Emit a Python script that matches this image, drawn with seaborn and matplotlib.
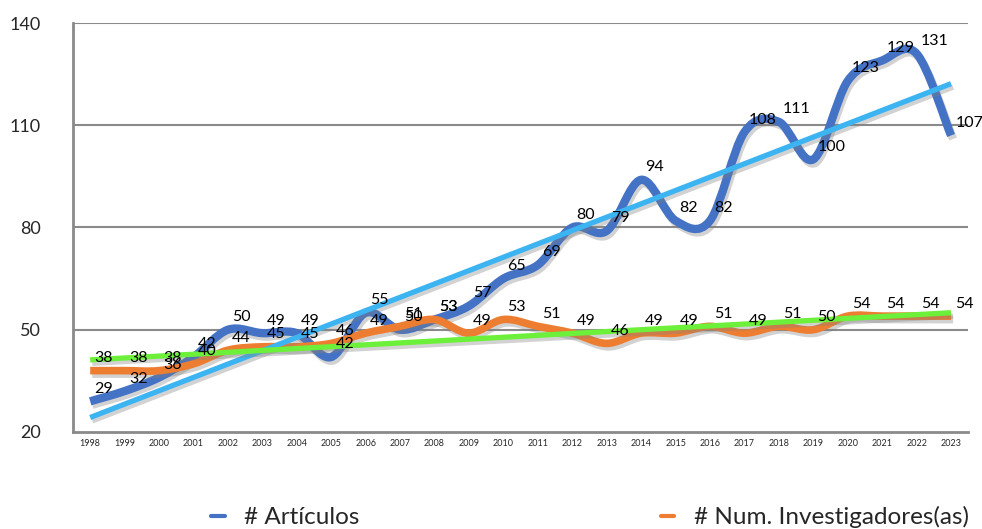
import numpy as np
import pandas as pd
import seaborn as sns
from matplotlib import pyplot as plt
from matplotlib import patheffects as pe
from matplotlib.lines import Line2D
from matplotlib.path import Path
from matplotlib.patches import PathPatch

years = [str(y) for y in range(1998, 2024)]
articulos = [29, 32, 36, 42, 50, 49, 49, 42, 55, 50, 53, 57, 65, 69, 80, 79,
             94, 82, 82, 108, 111, 100, 123, 129, 131, 107]
investigadores = [38, 38, 38, 40, 44, 45, 45, 46, 49, 51, 53, 49, 53, 51, 49, 46,
                  49, 49, 51, 49, 51, 50, 54, 54, 54, 54]
yticks = [20, 50, 80, 110, 140]

blue = '#4472C4'
orange = '#ED7D31'
sky = '#3DB4F2'
green = '#6CF03A'

sns.set_style('white')
plt.rcParams['font.family'] = ['Lato', 'DejaVu Sans']

df = pd.DataFrame({'year': years, 'idx': np.arange(len(years)),
                   'art': articulos, 'inv': investigadores})

fig = plt.figure(figsize=(9.82, 5.29), dpi=100)
ax = fig.add_axes([0.0743, 0.1834, 0.9117, 0.7731])

shadow = [pe.SimpleLineShadow(offset=(1.5, -2.5), shadow_color='gray', alpha=0.35), pe.Normal()]


def smooth_path(xs, ys):
    # bezier curve through the points, like the spreadsheet "smoothed line"
    pts = np.column_stack([xs, ys]).astype(float)
    ext = np.vstack([pts[0], pts, pts[-1]])
    verts = [pts[0]]
    codes = [Path.MOVETO]
    for i in range(len(pts) - 1):
        p0, p1, p2, p3 = ext[i], ext[i + 1], ext[i + 2], ext[i + 3]
        verts += [p1 + (p2 - p0) / 6, p2 - (p3 - p1) / 6, p2]
        codes += [Path.CURVE4] * 3
    return Path(verts, codes)


for col, color, lw, z in [('art', blue, 6, 3), ('inv', orange, 5.5, 4)]:
    patch = PathPatch(smooth_path(df['idx'], df[col]), fill=False, edgecolor=color,
                      lw=lw, capstyle='butt', joinstyle='round', zorder=z)
    patch.set_path_effects(shadow)
    ax.add_patch(patch)

# linear trendlines
sns.regplot(data=df, x='idx', y='art', scatter=False, ci=None, ax=ax,
            line_kws=dict(color=sky, lw=3.8, solid_capstyle='butt', path_effects=shadow, zorder=5))
sns.regplot(data=df, x='idx', y='inv', scatter=False, ci=None, ax=ax,
            line_kws=dict(color=green, lw=3.8, solid_capstyle='butt', path_effects=shadow, zorder=6))

for i in range(len(years)):
    ax.annotate(str(articulos[i]), (df['idx'][i], articulos[i]), xytext=(3, 4),
                textcoords='offset points', ha='left', va='bottom', fontsize=11.5,
                color='black', zorder=7)
    ax.annotate(str(investigadores[i]), (df['idx'][i], investigadores[i]), xytext=(3, 4),
                textcoords='offset points', ha='left', va='bottom', fontsize=11.5,
                color='black', zorder=7)

ax.set_xlim(-0.5, len(years) - 0.5)
ax.set_ylim(20, 140)
ax.set_yticks(yticks)
ax.set_yticklabels([str(v) for v in yticks], fontsize=13)
ax.set_xticks(np.arange(len(years)))
ax.set_xticklabels(years, fontsize=6.5)
ax.set_xticks(np.arange(len(years) + 1) - 0.5, minor=True)
ax.tick_params(axis='x', which='major', length=0, pad=5)
ax.tick_params(axis='x', which='minor', length=5, width=1.5, color='#8a8a8a', direction='out')
ax.tick_params(axis='y', length=5, width=1.5, color='#8a8a8a', direction='out', pad=18)
for v in yticks[1:]:
    ax.axhline(v, color='#8a8a8a', lw=1.5, zorder=1)
ax.set_xlabel('')
ax.set_ylabel('')
for s in ['top', 'right']:
    ax.spines[s].set_visible(False)
for s in ['left', 'bottom']:
    ax.spines[s].set_color('#8a8a8a')
    ax.spines[s].set_linewidth(2)

handles = [Line2D([], [], color=blue, lw=3), Line2D([], [], color=orange, lw=3)]
fig.legend(handles, ['# Artículos', '# Num. Investigadores(as)'], loc='center',
           bbox_to_anchor=(0.601, 0.022), ncol=2, frameon=False, fontsize=17.5,
           handlelength=0.55, handletextpad=0.8, columnspacing=12.4)

fig.savefig('out.png', dpi=100)
